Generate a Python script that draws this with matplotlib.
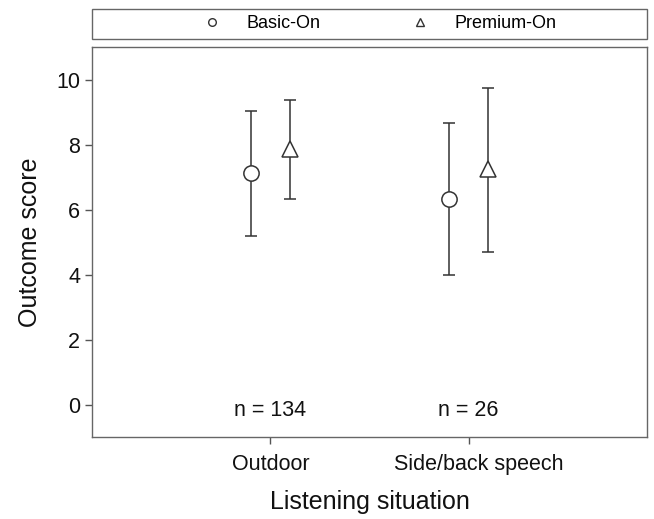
import matplotlib.pyplot as plt
from matplotlib.patches import Rectangle
from matplotlib.lines import Line2D
from matplotlib.transforms import ScaledTranslation
import numpy as np

plt.rcParams['font.family'] = ['Liberation Sans', 'DejaVu Sans']

situations = ["Outdoor", "Side/back speech"]
n_labels = ["n = 134", "n = 26"]
basic_mean = [7.12, 6.33]
basic_low = [5.19, 3.98]
basic_high = [9.03, 8.67]
premium_mean = [7.87, 7.26]
premium_low = [6.34, 4.69]
premium_high = [9.36, 9.75]

dark = "#333333"
x = np.arange(1, len(situations) + 1)

fig = plt.figure(figsize=(6.54, 5.19), dpi=100)
ax = fig.add_axes([0.1407, 0.158, 0.8486, 0.751])

ax.errorbar(x - 0.1, basic_mean,
            yerr=[np.subtract(basic_mean, basic_low), np.subtract(basic_high, basic_mean)],
            fmt="o", ms=11, mfc="white", mec=dark, mew=1.1, color=dark,
            elinewidth=1.1, capsize=4.5, capthick=1.1)
ax.errorbar(x + 0.1, premium_mean,
            yerr=[np.subtract(premium_mean, premium_low), np.subtract(premium_high, premium_mean)],
            fmt="^", ms=11, mfc="white", mec=dark, mew=1.1, color=dark,
            elinewidth=1.1, capsize=4.5, capthick=1.1)

for xi, lab in zip(x, n_labels):
    ax.text(xi, -0.17, lab, ha="center", va="center", fontsize=15.5, color="#111111")

ax.set_xlim(0.1, 2.9)
ax.set_ylim(-1, 11)
ax.set_yticks([0, 2, 4, 6, 8, 10])
ax.set_xticks(x)
ax.set_xticklabels(situations)
ax.tick_params(axis="both", labelsize=15.5, length=5, width=1, color="#555555", labelcolor="#111111")
ax.tick_params(axis="x", pad=7)
# second category label sits a little right of its tick in the original
lbl = ax.get_xticklabels()[1]
lbl.set_transform(lbl.get_transform() + ScaledTranslation(0.1, 0, fig.dpi_scale_trans))
for s in ax.spines.values():
    s.set_color("#666666")
    s.set_linewidth(1)

ax.set_xlabel("Listening situation", fontsize=18, labelpad=11, color="#111111")
ax.set_ylabel("Outcome score", fontsize=18, labelpad=10, color="#111111")

# legend box above the plot
fig.patches.append(Rectangle((0.1407, 0.925), 0.8486, 0.058, transform=fig.transFigure,
                             fill=False, edgecolor="#666666", linewidth=1))
handles = [Line2D([], [], ls="none", marker="o", ms=5.5, mfc="white", mec=dark, mew=1),
           Line2D([], [], ls="none", marker="^", ms=5.5, mfc="white", mec=dark, mew=1)]
fig.legend(handles, ["Basic-On", "Premium-On"], loc="center", bbox_to_anchor=(0.574, 0.955),
           ncol=2, frameon=False, fontsize=13, handletextpad=0.9, columnspacing=4.5,
           borderpad=0, borderaxespad=0)

fig.savefig("out.png", dpi=100)
